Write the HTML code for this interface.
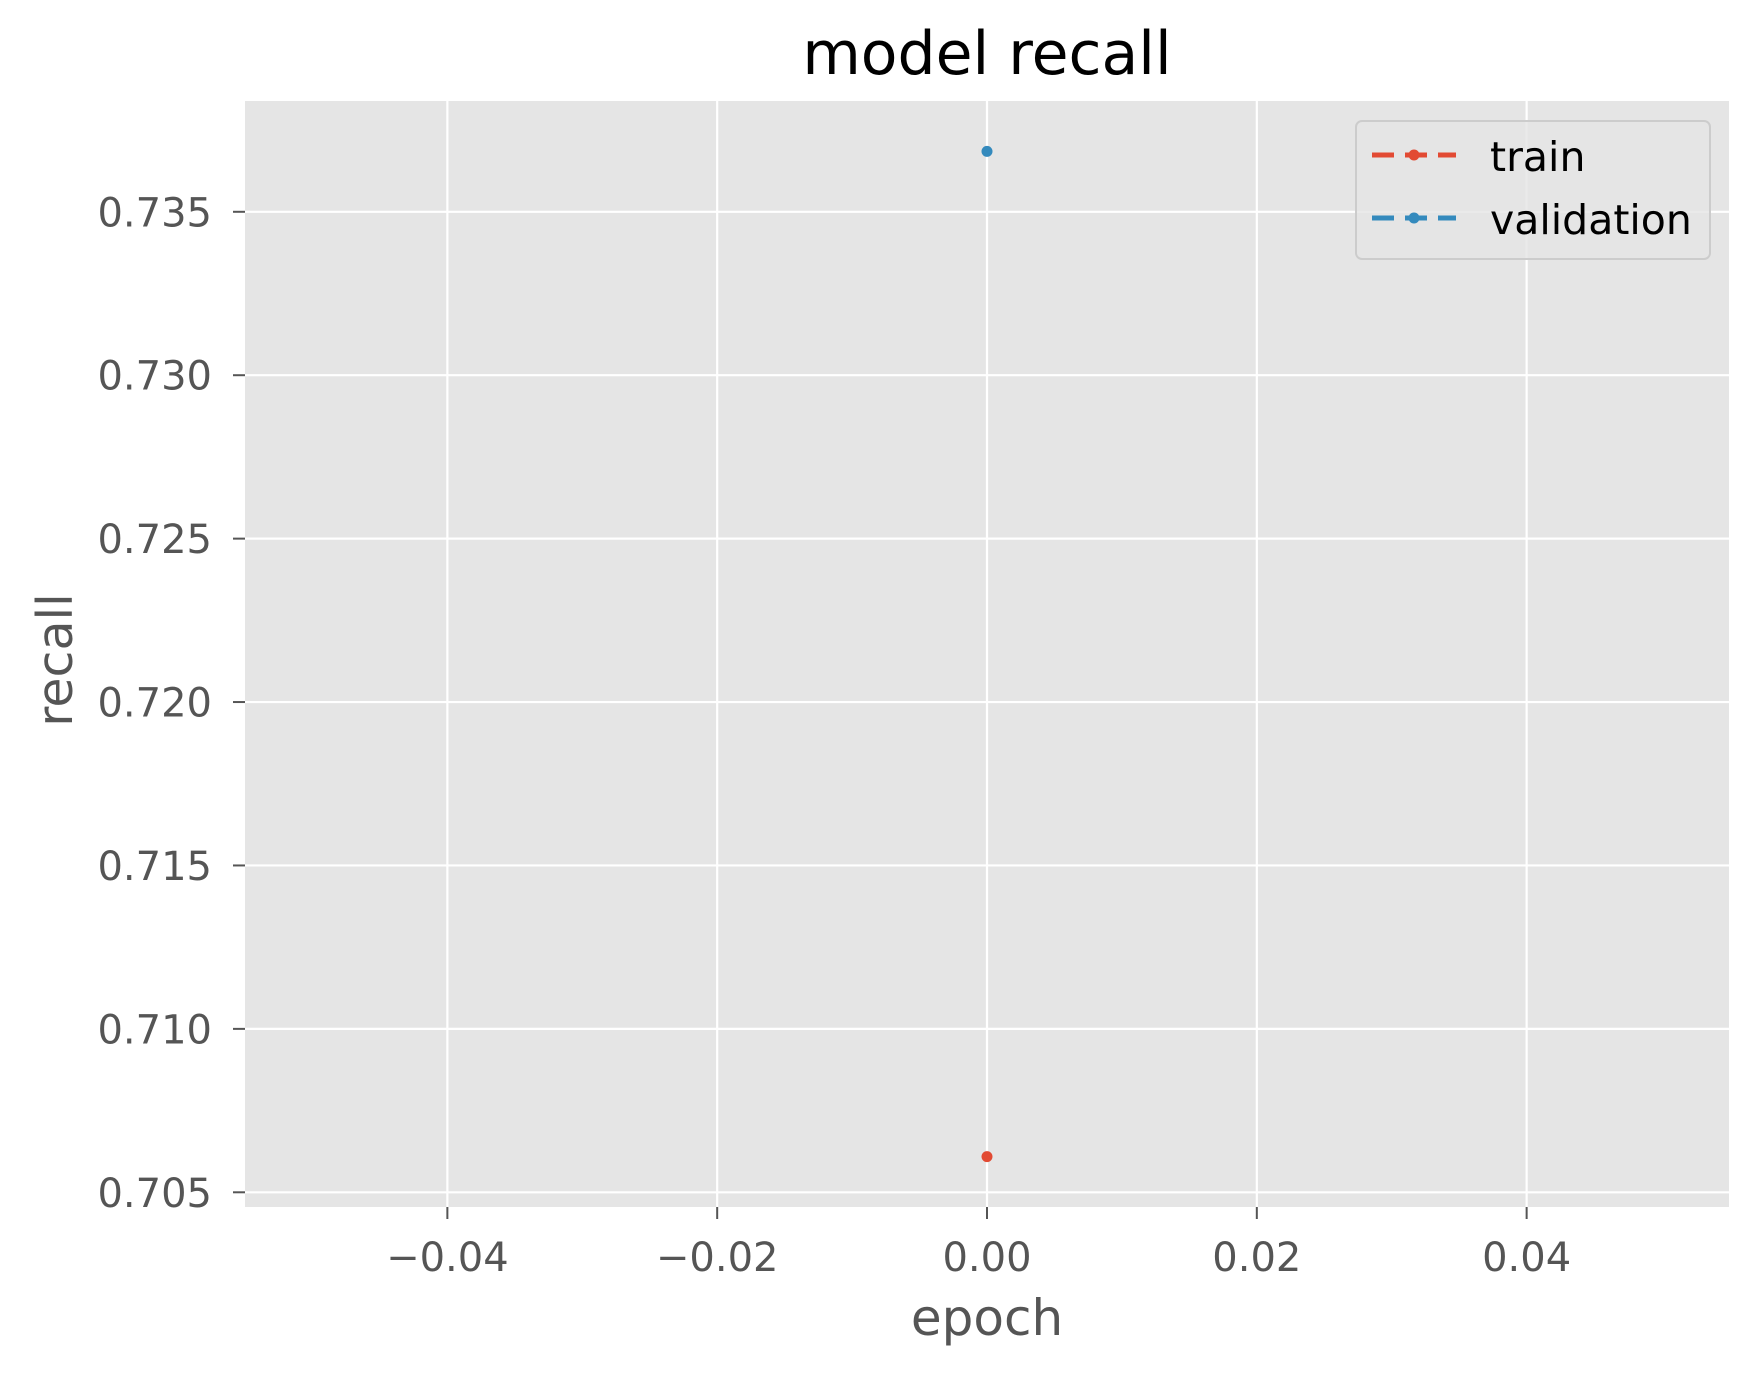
<!DOCTYPE html>
<html><head><meta charset="utf-8"><style>
html,body{margin:0;padding:0;background:#fff;}
svg{display:block;font-family:"DejaVu Sans","Liberation Sans",sans-serif;}
</style></head><body>
<svg id="chart" width="1761" height="1375" viewBox="0 0 1761 1375" xmlns="http://www.w3.org/2000/svg">
<rect x="245" y="101" width="1484" height="1106" fill="#E5E5E5"/>
<g id="grid"></g>
<g id="ticks"></g>
<g id="marks"></g>
<text x="987" y="74" font-size="60" text-anchor="middle" fill="#000">model recall</text>
<text x="987" y="1335" font-size="50" text-anchor="middle" fill="#555">epoch</text>
<text x="0" y="0" font-size="49" text-anchor="middle" fill="#555" transform="translate(72,660) rotate(-90)">recall</text>
<g>
<rect x="1356" y="121" width="354" height="138" rx="6" fill="#E5E5E5" fill-opacity="0.8" stroke="#CCCCCC" stroke-width="2"/>
<g>
<line x1="1372" y1="155" x2="1456" y2="155" stroke="#E24A33" stroke-width="5" stroke-dasharray="22 11"/>
<circle cx="1414" cy="155" r="5.5" fill="#E24A33"/>
<text x="1490" y="171" font-size="41" fill="#000">train</text>
</g>
<g>
<line x1="1372" y1="218" x2="1456" y2="218" stroke="#348ABD" stroke-width="5" stroke-dasharray="22 11"/>
<circle cx="1414" cy="218" r="5.5" fill="#348ABD"/>
<text x="1490" y="234" font-size="41" fill="#000">validation</text>
</g>
</g>
</svg>
<script>
const epochs = [0];
const trainRecall = [0.70609];
const valRecall = [0.73685];
const xTicks = [-0.04, -0.02, 0.00, 0.02, 0.04];
const xTickLabels = ["\u22120.04", "\u22120.02", "0.00", "0.02", "0.04"];
const yTicks = [0.705, 0.710, 0.715, 0.720, 0.725, 0.730, 0.735];
const yTickLabels = ["0.705", "0.710", "0.715", "0.720", "0.725", "0.730", "0.735"];

const NS = "http://www.w3.org/2000/svg";
const L = 245, R = 1729, T = 101, B = 1207;
const xMin = -0.055, xMax = 0.055, yMin = 0.70455, yMax = 0.73839;
function xs(v){ return L + (v - xMin) / (xMax - xMin) * (R - L); }
function ys(v){ return B - (v - yMin) / (yMax - yMin) * (B - T); }
function mk(tag, attrs, parent){
  const e = document.createElementNS(NS, tag);
  for (const k in attrs) e.setAttribute(k, attrs[k]);
  parent.appendChild(e);
  return e;
}
const grid = document.getElementById('grid');
const ticks = document.getElementById('ticks');
const marks = document.getElementById('marks');
xTicks.forEach((v, i) => {
  const x = xs(v);
  const g = mk('line', {x1:x, x2:x, y1:T, y2:B, stroke:'#fff', 'stroke-width':2.2}, grid);
  
  
  const t = mk('line', {x1:x, x2:x, y1:B, y2:B+12, stroke:'#555', 'stroke-width':2}, ticks);
  
  
  const lb = mk('text', {x:x, y:B+64, 'font-size':40, 'text-anchor':'middle', fill:'#555'}, ticks);
  lb.textContent = xTickLabels[i];
  
  
});
yTicks.forEach((v, i) => {
  const y = ys(v);
  const g = mk('line', {x1:L, x2:R, y1:y, y2:y, stroke:'#fff', 'stroke-width':2.2}, grid);
  
  
  const t = mk('line', {x1:L-12, x2:L, y1:y, y2:y, stroke:'#555', 'stroke-width':2}, ticks);
  
  
  const lb = mk('text', {x:L-33, y:y+14.5, 'font-size':40, 'text-anchor':'end', fill:'#555'}, ticks);
  lb.textContent = yTickLabels[i];
  
  
});
function drawSeries(vals, color, name){
  if (vals.length > 1) {
    const pts = vals.map((v, i) => xs(epochs[i]) + ',' + ys(v)).join(' ');
    const pl = mk('polyline', {points:pts, fill:'none', stroke:color, 'stroke-width':5, 'stroke-dasharray':'22 11'}, marks);
    
    
  }
  vals.forEach((v, i) => {
    const c = mk('circle', {cx:xs(epochs[i]), cy:ys(v), r:5.5, fill:color}, marks);
    
    
  });
}
drawSeries(trainRecall, '#E24A33', 'train');
drawSeries(valRecall, '#348ABD', 'validation');
</script>
</body></html>
